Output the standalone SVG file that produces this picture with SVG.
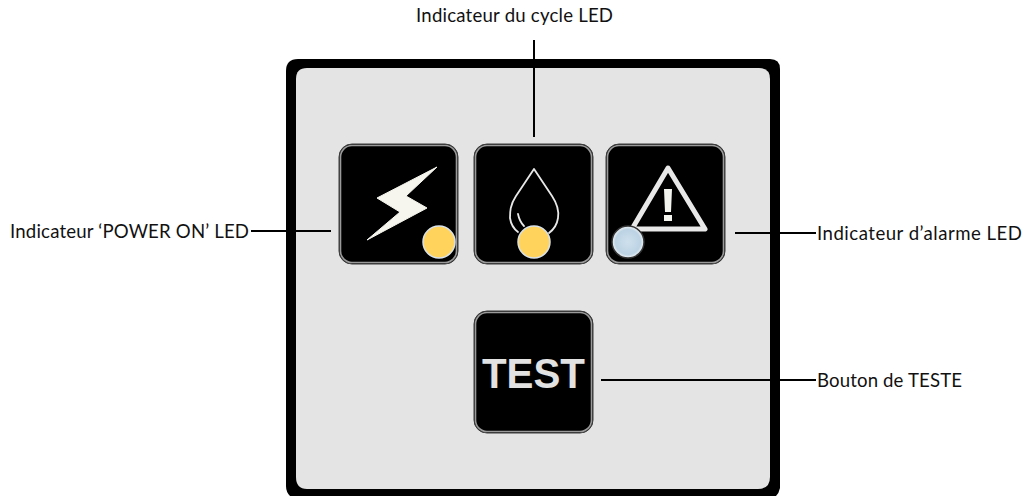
<svg xmlns="http://www.w3.org/2000/svg" width="1026" height="496" viewBox="0 0 1026 496">
<style>
.lbl{font-family:Lato,"Open Sans","Liberation Sans",sans-serif;font-size:18.6px;fill:#111}
.btn{fill:#000;stroke:#3a3a3a;stroke-width:1}
.rim{fill:none;stroke:#9a9a9a;stroke-width:1.6}
.con{stroke:#000;stroke-width:2;fill:none}
.ico{fill:none;stroke:#e8e8e8;stroke-linejoin:round;stroke-linecap:round}
.yl{fill:#ffd35c;stroke:#d8e2ea;stroke-width:1.5}
</style>
<defs>
<radialGradient id="bl" cx="50%" cy="50%" r="50%"><stop offset="0" stop-color="#cfe0ec"/><stop offset="0.78" stop-color="#bcd3e4"/><stop offset="1" stop-color="#f0f3f6"/></radialGradient>
</defs>
<rect width="1026" height="496" fill="#fff"/>
<g id="panel">
<path d="M298 59H770Q780 59 780 69V488Q779 493 776 496H290Q286 492 286 486V71Q286 59 298 59Z" fill="#000"/>
<path d="M307 68H759Q770 68 770 79V477Q770 489 758 489H307Q296 489 296 477V79Q296 68 307 68Z" fill="#e4e4e4"/>
</g>
<g id="connectors">
<path class="con" d="M534 40V137"/>
<path class="con" d="M251 231H331"/>
<path class="con" d="M735 233H816"/>
<path class="con" d="M601 380H816"/>
</g>
<g id="power">
<rect class="btn" x="339" y="144" width="119" height="120" rx="13"/>
<rect class="rim" x="340.5" y="145.5" width="116" height="117" rx="11.5"/>
<path d="M437 167L377 198L400 212L367 240L427 208L406 196Z" fill="#f6f6ee" stroke="#f6f6ee" stroke-linejoin="round"/>
<circle class="yl" cx="439" cy="242" r="16"/>
</g>
<g id="cycle">
<rect class="btn" x="474" y="144" width="119" height="120" rx="13"/>
<rect class="rim" x="475.5" y="145.5" width="116" height="117" rx="11.5"/>
<path class="ico" stroke-width="1.8" d="M534 169L552 196C558 205 559 212 558 218C557 225 553 230 549 233M534 169L516 196C510 205 510 212 510 218C511 225 514 229 518 232M518 214C519 219 520 222 524 226"/>
<circle class="yl" cx="534" cy="242" r="16"/>
</g>
<g id="alarm">
<rect class="btn" x="606" y="144" width="119" height="120" rx="13"/>
<rect class="rim" x="607.5" y="145.5" width="116" height="117" rx="11.5"/>
<path class="ico" stroke-width="5" d="M668 168L705 229H632Z"/>
<path d="M664 189H672L671 212H665ZM664 215H672V221H664Z" fill="#f4f4ee"/>
<circle cx="628" cy="242" r="16" fill="url(#bl)" stroke="#333" stroke-width="1.5"/>
</g>
<g id="test">
<rect class="btn" x="474" y="311" width="119" height="122" rx="13"/>
<rect class="rim" x="475.5" y="312.5" width="116" height="119" rx="11.5"/>
<text x="533.5" y="388" text-anchor="middle" font-family="'Liberation Sans',Arial,sans-serif" font-weight="700" font-size="42.5" textLength="103" lengthAdjust="spacingAndGlyphs" fill="#e2e2e2">TEST</text>
</g>
<g id="labels">
<text class="lbl" x="416" y="22" textLength="197">Indicateur du cycle LED</text>
<text class="lbl" x="10" y="238" textLength="239">Indicateur ‘POWER ON’ LED</text>
<text class="lbl" x="817" y="240" textLength="205">Indicateur d’alarme LED</text>
<text class="lbl" x="817" y="387" textLength="145">Bouton de TESTE</text>
</g>
</svg>
